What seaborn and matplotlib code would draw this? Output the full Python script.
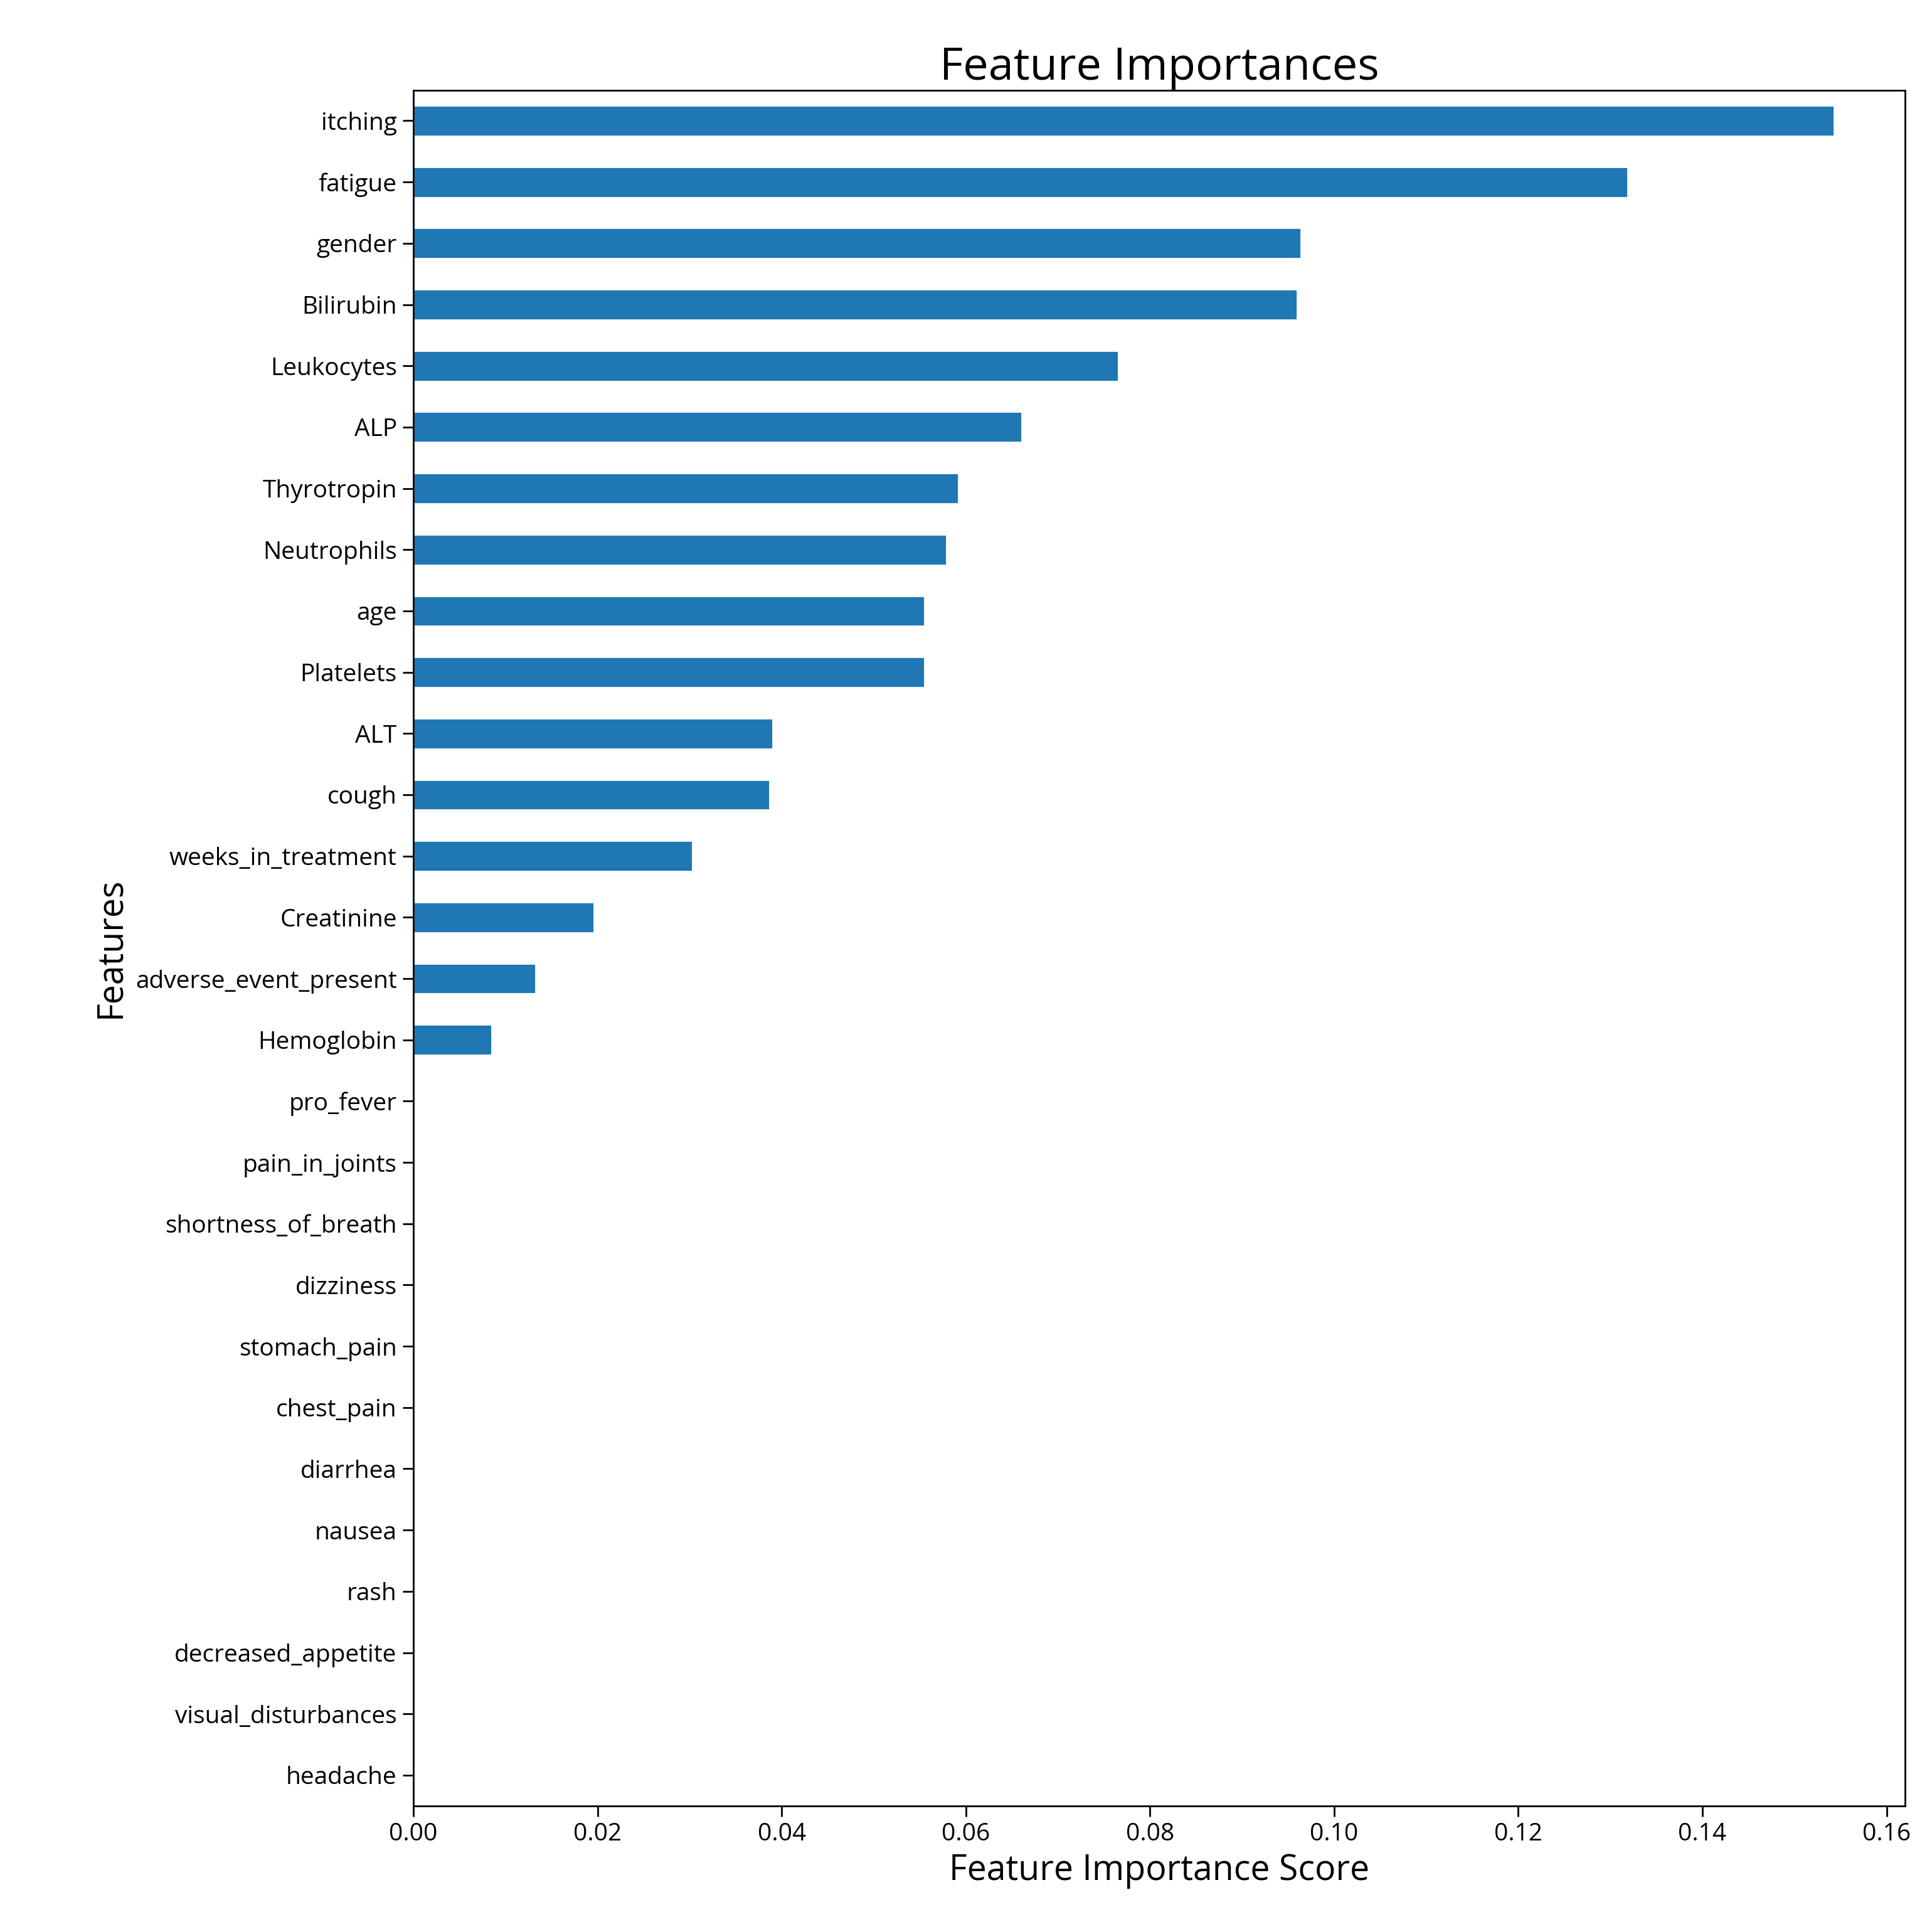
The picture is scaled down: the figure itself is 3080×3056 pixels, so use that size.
import matplotlib
matplotlib.use("Agg")
import matplotlib.pyplot as plt
import seaborn as sns
import pandas as pd

features = ["itching","fatigue","gender","Bilirubin","Leukocytes","ALP","Thyrotropin",
            "Neutrophils","age","Platelets","ALT","cough","weeks_in_treatment","Creatinine",
            "adverse_event_present","Hemoglobin","pro_fever","pain_in_joints",
            "shortness_of_breath","dizziness","stomach_pain","chest_pain","diarrhea",
            "nausea","rash","decreased_appetite","visual_disturbances","headache"]
scores = [0.1543,0.1319,0.0964,0.0960,0.0766,0.0661,0.0592,0.0579,0.0555,0.0555,
          0.0390,0.0387,0.0303,0.0196,0.0133,0.0085,0,0,0,0,0,0,0,0,0,0,0,0]

sns.set_style("white")
plt.rcParams['font.family'] = ['Open Sans', 'DejaVu Sans']
plt.rcParams['text.color'] = 'black'
plt.rcParams['axes.labelcolor'] = 'black'
plt.rcParams['xtick.color'] = 'black'
plt.rcParams['ytick.color'] = 'black'
df = pd.DataFrame({"feature": features, "score": scores})

fig = plt.figure(figsize=(15.4, 15.28), dpi=200)
ax = fig.add_axes([0.214, 0.058, 0.772, 0.895])
sns.barplot(data=df, x="score", y="feature", orient="h", color="#1f77b4",
            saturation=1, width=0.5, ax=ax)
ax.set_xlim(0, 0.162)
ticks = [0, 0.02, 0.04, 0.06, 0.08, 0.10, 0.12, 0.14, 0.16]
ax.set_xticks(ticks)
ax.set_xticklabels([f"{v:.2f}" for v in ticks])
ax.tick_params(axis="both", labelsize=14, length=6, width=1, direction="out",
               bottom=True, left=True)
for s in ax.spines.values():
    s.set_visible(True); s.set_color("black"); s.set_linewidth(1)
ax.set_title("Feature Importances", fontsize=26, pad=6)
ax.set_xlabel("Feature Importance Score", fontsize=20)
ax.set_ylabel("Features", fontsize=20)
fig.savefig("out.png", dpi=200)
